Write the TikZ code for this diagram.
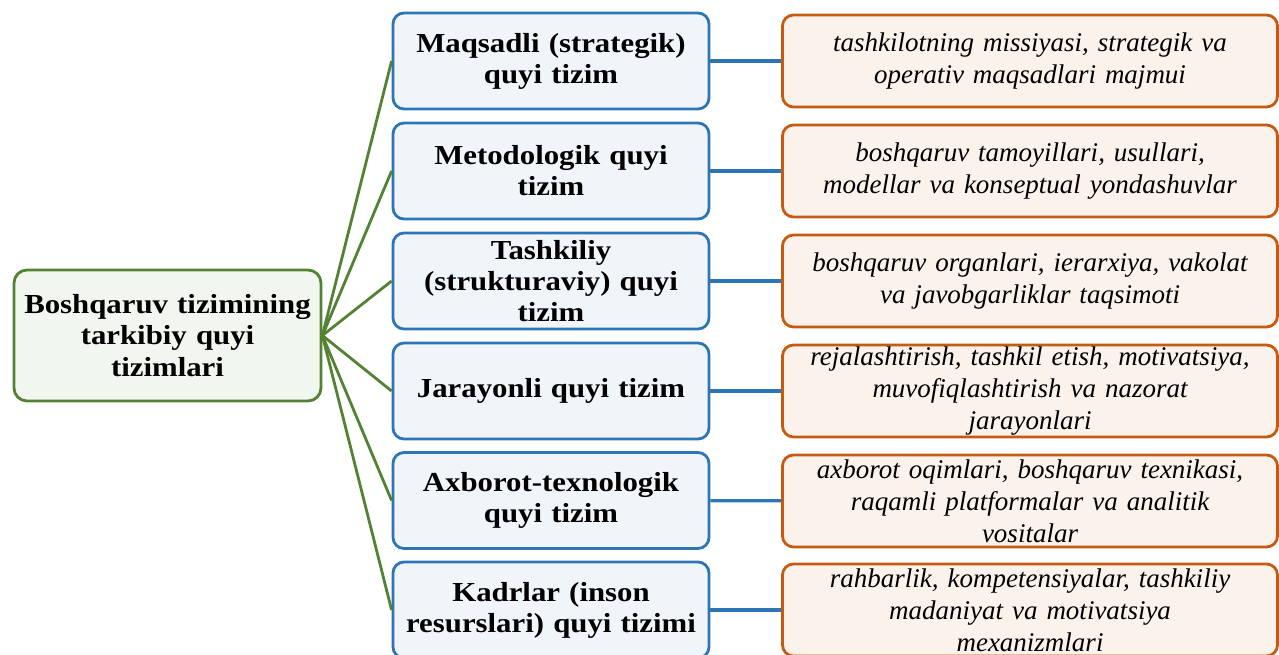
\documentclass[tikz,border=0pt]{standalone}
\usepackage{fontspec}
\setmainfont[FakeStretch=1.12, WordSpace=0.85]{Liberation Serif}
\newfontfamily\descfont[WordSpace=0.75]{Liberation Serif}
\usepackage{tikz}
\usetikzlibrary{arrows.meta}
\usepackage{xcolor}
\definecolor{rootline}{HTML}{548235}
\definecolor{rootfill}{HTML}{F1F6EE}
\definecolor{midline}{HTML}{2E75B6}
\definecolor{midfill}{HTML}{F0F5FA}
\definecolor{descline}{HTML}{C55A11}
\definecolor{descfill}{HTML}{FBF2EC}

\begin{document}
\begin{tikzpicture}[x=1pt, y=-1pt,
  rootbox/.style={rectangle, rounded corners=13pt, draw=rootline, line width=2.8pt, fill=rootfill,
    minimum width=307pt, minimum height=131pt, text width=304pt, align=center, inner sep=0pt,
    font=\fontsize{27.5}{31.5}\selectfont\bfseries},
  subbox/.style={rectangle, rounded corners=11pt, draw=midline, line width=2.8pt, fill=midfill,
    minimum width=316pt, minimum height=96pt, text width=313pt, align=center, inner sep=0pt,
    font=\fontsize{27.5}{31}\selectfont\bfseries},
  descbox/.style={rectangle, rounded corners=11pt, draw=descline, line width=2.8pt, fill=descfill,
    minimum width=495pt, minimum height=92pt, text width=494pt, align=center, inner sep=0pt,
    font=\descfont\fontsize{27}{32}\selectfont\itshape},
  branch/.style={draw=rootline, line width=2.8pt},
  link/.style={draw=midline, line width=3.2pt}]
  \clip (0,0) rectangle (1279,655);

  % root
  \node[rootbox] (root) at (167.5,335.5) {Boshqaruv tizimining\\ tarkibiy quyi\\ tizimlari};

  % subsystems
  \node[subbox] (goal) at (551,61) {Maqsadli (strategik)\\ quyi tizim};
  \node[subbox] (method) at (551,171) {Metodologik quyi\\ tizim};
  \node[subbox] (struct) at (551,281) {Tashkiliy\\ (strukturaviy) quyi\\ tizim};
  \node[subbox] (process) at (551,391) {Jarayonli quyi tizim};
  \node[subbox] (info) at (551,500.5) {Axborot-texnologik\\ quyi tizim};
  \node[subbox] (staff) at (551,610) {Kadrlar (inson\\ resurslari) quyi tizimi};

  % descriptions
  \node[descbox] (goald) at (1030,61) {tashkilotning missiyasi, strategik va\\ operativ maqsadlari majmui};
  \node[descbox] (methodd) at (1030,171) {boshqaruv tamoyillari, usullari,\\ modellar va konseptual yondashuvlar};
  \node[descbox] (structd) at (1030,281) {boshqaruv organlari, ierarxiya, vakolat\\ va javobgarliklar taqsimoti};
  \node[descbox] (processd) at (1030,391) {rejalashtirish, tashkil etish, motivatsiya,\\ muvofiqlashtirish va nazorat\\ jarayonlari};
  \node[descbox] (infod) at (1030,501) {axborot oqimlari, boshqaruv texnikasi,\\ raqamli platformalar va analitik\\ vositalar};
  \node[descbox] (staffd) at (1030,610) {rahbarlik, kompetensiyalar, tashkiliy\\ madaniyat va motivatsiya\\ mexanizmlari};

  % root to subsystems
  \draw[branch] (root.east) -- (goal.west);
  \draw[branch] (root.east) -- (method.west);
  \draw[branch] (root.east) -- (struct.west);
  \draw[branch] (root.east) -- (process.west);
  \draw[branch] (root.east) -- (info.west);
  \draw[branch] (root.east) -- (staff.west);

  % subsystems to descriptions
  \draw[link] (goal) -- (goald);
  \draw[link] (method) -- (methodd);
  \draw[link] (struct) -- (structd);
  \draw[link] (process) -- (processd);
  \draw[link] (info) -- (infod);
  \draw[link] (staff) -- (staffd);
\end{tikzpicture}
\end{document}
